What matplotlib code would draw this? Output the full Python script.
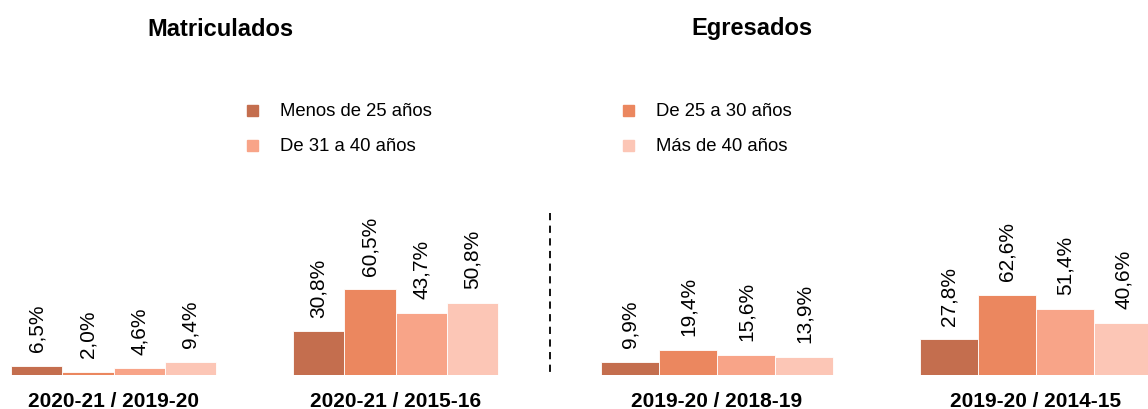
import matplotlib.pyplot as plt
from matplotlib.patches import Rectangle
from matplotlib.lines import Line2D
import numpy as np

plt.rcParams['font.family'] = ['Liberation Sans', 'DejaVu Sans']

# Variación por tramo de edad
tramos = ['Menos de 25 años', 'De 25 a 30 años', 'De 31 a 40 años', 'Más de 40 años']
colores = ['#C46E4E', '#EB875F', '#F8A488', '#FCC6B6']

periodos_matr = ['2020-21 / 2019-20', '2020-21 / 2015-16']
matriculados = [[6.5, 2.0, 4.6, 9.4],
                [30.8, 60.5, 43.7, 50.8]]

periodos_egr = ['2019-20 / 2018-19', '2019-20 / 2014-15']
egresados = [[9.9, 19.4, 15.6, 13.9],
             [27.8, 62.6, 51.4, 40.6]]

W, H = 1148, 409
fig = plt.figure(figsize=(W / 100, H / 100), dpi=100)

base = 1 - 375 / H
top = 1 - 200 / H
ax1 = fig.add_axes([0, base, 550 / W, top - base])
ax2 = fig.add_axes([550 / W, base, 598 / W, top - base])

ancho = 0.182


def barras(ax, periodos, valores, xlim, ymax):
    x = np.arange(len(periodos))
    for i in range(len(tramos)):
        vals = [v[i] for v in valores]
        pos = x + (i - 1.5) * ancho
        ax.bar(pos, vals, ancho, color=colores[i], edgecolor='white', linewidth=0.6)
        for p, v in zip(pos, vals):
            ax.annotate(f'{v:.1f}%'.replace('.', ','), (p, v), xytext=(0, 10),
                        textcoords='offset points', rotation=90,
                        ha='center', va='bottom', fontsize=15)
    ax.set_xlim(*xlim)
    ax.set_ylim(0, ymax)
    ax.set_xticks(x)
    ax.set_xticklabels(periodos, fontsize=15, fontweight='bold')
    ax.tick_params(axis='x', length=0, pad=12)
    ax.set_yticks([])
    for s in ax.spines.values():
        s.set_visible(False)
    ax.patch.set_alpha(0)


barras(ax1, periodos_matr, matriculados, (-113.5 / 282, 436.5 / 282), 175 / 1.415)
barras(ax2, periodos_egr, egresados, (-167 / 319, 431 / 319), 175 / 1.28)

# Títulos de cada bloque
fig.text(220 / W, 1 - 29 / H, 'Matriculados', ha='center', va='center',
         fontsize=17, fontweight='bold')
fig.text(752 / W, 1 - 29 / H, 'Egresados', ha='center', va='center',
         fontsize=17, fontweight='bold')

# Separador
fig.add_artist(Line2D([550 / W, 550 / W], [1 - 213 / H, 1 - 376 / H],
                      color='black', linestyle=(0, (4, 3)), linewidth=1.3))

# Leyenda
pos_ley = [(252, 110), (628, 110), (252, 145), (628, 145)]
for (px, py), nombre, c in zip(pos_ley, tramos, colores):
    fig.add_artist(Rectangle(((px - 5.5) / W, 1 - (py + 5.5) / H), 11 / W, 11 / H,
                             color=c, transform=fig.transFigure))
    fig.text((px + 28) / W, 1 - (py + 1.5) / H, nombre, ha='left', va='center',
             fontsize=13.3)

fig.savefig('out.png', dpi=100)
